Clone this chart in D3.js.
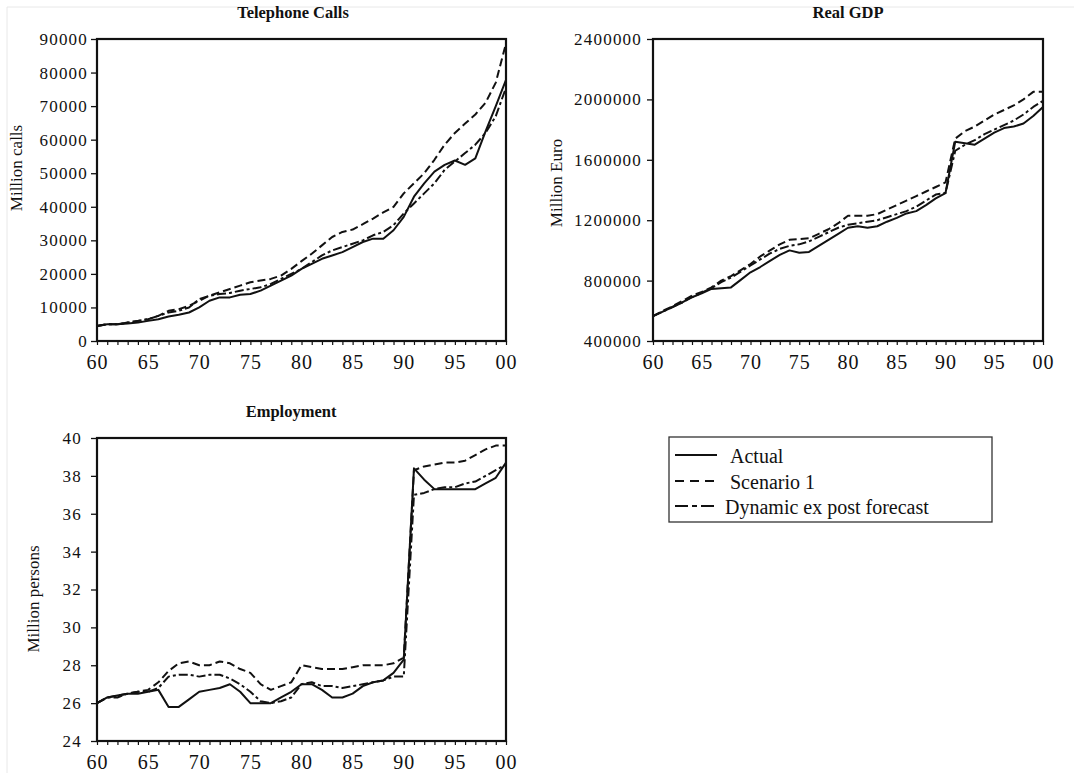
<!DOCTYPE html>
<html>
<head>
<meta charset="utf-8">
<script src="https://cdn.jsdelivr.net/npm/d3@7"></script>
<style>
    body { margin: 0; background: #fff; }
    svg text { font-family: "Liberation Serif", "DejaVu Serif", serif; fill: #111; }
</style>
</head>
<body>
<script>
// years on the x axis
var years = [1960, 1961, 1962, 1963, 1964, 1965, 1966, 1967, 1968, 1969,
    1970, 1971, 1972, 1973, 1974, 1975, 1976, 1977, 1978, 1979,
    1980, 1981, 1982, 1983, 1984, 1985, 1986, 1987, 1988, 1989,
    1990, 1991, 1992, 1993, 1994, 1995, 1996, 1997, 1998, 1999, 2000];
var xTicks = [1960, 1965, 1970, 1975, 1980, 1985, 1990, 1995, 2000];
var xTickLabels = ['60', '65', '70', '75', '80', '85', '90', '95', '00'];

var seriesNames = ['Actual', 'Scenario 1', 'Dynamic ex post forecast'];

// Telephone calls (million calls)
var callsActual = [4500, 5000, 5000, 5200, 5500, 6000, 6500, 7300, 7800, 8500,
    10000, 12000, 13000, 13000, 13800, 14000, 15000, 16500, 18000, 19500,
    21500, 23000, 24500, 25500, 26500, 28000, 29500, 30500, 30500, 33000,
    37000, 43000, 47000, 50500, 52500, 53800, 52500, 54400, 62500, 70000, 77800];
var callsScenario = [4500, 5000, 5000, 5500, 6000, 6500, 7500, 9000, 9500, 10500,
    12000, 13500, 14500, 15500, 16500, 17500, 18000, 18500, 19500, 21500,
    23800, 26000, 28500, 31000, 32500, 33200, 34800, 36500, 38300, 40000,
    44000, 47000, 50000, 54000, 58500, 62000, 64800, 67500, 71000, 77000, 88700];
var callsDynamic = [4500, 5000, 5000, 5500, 6000, 6500, 7500, 8500, 9000, 10000,
    12500, 13500, 14000, 14300, 15000, 15500, 16000, 17000, 18500, 20000,
    21500, 23500, 25500, 27000, 28000, 29000, 30000, 31500, 32500, 34500,
    38000, 41000, 44000, 47000, 51000, 53500, 56000, 58500, 62000, 67000, 75500];
var callsTicks = [0, 10000, 20000, 30000, 40000, 50000, 60000, 70000, 80000, 90000];

// Real GDP (million euro)
var gdpActual = [565000, 595000, 625000, 655000, 690000, 715000, 745000, 750000, 755000, 805000,
    855000, 890000, 930000, 970000, 1000000, 985000, 990000, 1030000, 1070000, 1110000,
    1150000, 1160000, 1150000, 1160000, 1190000, 1215000, 1245000, 1260000, 1300000, 1345000,
    1380000, 1720000, 1710000, 1700000, 1740000, 1780000, 1810000, 1820000, 1840000, 1890000, 1950000];
var gdpScenario = [565000, 600000, 630000, 665000, 700000, 725000, 755000, 800000, 830000, 870000,
    910000, 960000, 1000000, 1040000, 1070000, 1075000, 1080000, 1110000, 1140000, 1180000,
    1230000, 1230000, 1230000, 1240000, 1270000, 1300000, 1330000, 1360000, 1390000, 1420000,
    1450000, 1740000, 1790000, 1820000, 1860000, 1900000, 1930000, 1960000, 2000000, 2050000, 2050000];
var gdpDynamic = [565000, 595000, 625000, 655000, 690000, 720000, 750000, 790000, 820000, 860000,
    900000, 940000, 980000, 1010000, 1030000, 1040000, 1060000, 1090000, 1120000, 1150000,
    1170000, 1180000, 1190000, 1200000, 1220000, 1240000, 1260000, 1290000, 1330000, 1370000,
    1380000, 1660000, 1700000, 1730000, 1770000, 1800000, 1830000, 1860000, 1900000, 1950000, 1990000];
var gdpTicks = [400000, 800000, 1200000, 1600000, 2000000, 2400000];

// Employment (million persons)
var empActual = [26.0, 26.3, 26.4, 26.5, 26.5, 26.6, 26.7, 25.8, 25.8, 26.2,
    26.6, 26.7, 26.8, 27.0, 26.6, 26.0, 26.0, 26.0, 26.3, 26.6,
    27.0, 27.0, 26.7, 26.3, 26.3, 26.5, 26.9, 27.1, 27.2, 27.6,
    28.3, 38.4, 37.8, 37.3, 37.3, 37.3, 37.3, 37.3, 37.6, 37.9, 38.7];
var empScenario = [26.0, 26.3, 26.4, 26.5, 26.6, 26.7, 27.1, 27.7, 28.1, 28.2,
    28.0, 28.0, 28.2, 28.1, 27.8, 27.6, 27.0, 26.7, 26.9, 27.1,
    28.0, 27.9, 27.8, 27.8, 27.8, 27.9, 28.0, 28.0, 28.0, 28.1,
    28.4, 38.3, 38.5, 38.6, 38.7, 38.7, 38.8, 39.1, 39.4, 39.6, 39.6];
var empDynamic = [26.0, 26.3, 26.3, 26.5, 26.6, 26.6, 26.8, 27.4, 27.5, 27.5,
    27.4, 27.5, 27.5, 27.3, 27.0, 26.6, 26.1, 26.0, 26.1, 26.3,
    27.0, 27.1, 26.9, 26.9, 26.8, 26.9, 27.0, 27.1, 27.2, 27.4,
    27.4, 37.0, 37.1, 37.3, 37.4, 37.4, 37.6, 37.7, 38.0, 38.3, 38.6];
var empTicks = [24, 26, 28, 30, 32, 34, 36, 38, 40];

var width = 1074,
    height = 773;

// dash style per series
var dashes = ['none', '8,4', '9,3,3,3'];

var svg = d3.select('body').append('svg')
    .attr('width', width)
    .attr('height', height);

// faint outer border of the scanned figure
svg.append('line').attr('x1', 7).attr('x2', width).attr('y1', 7).attr('y2', 7)
    .attr('stroke', '#e8e8e8').attr('stroke-width', 1);
svg.append('line').attr('x1', 7).attr('x2', 7).attr('y1', 7).attr('y2', height)
    .attr('stroke', '#e8e8e8').attr('stroke-width', 1);

var panels = [
    { title: 'Telephone Calls', ylabel: 'Million calls', series: [callsActual, callsScenario, callsDynamic],
      domain: [0, 90000], ticks: callsTicks, left: 97, top: 39, w: 409, h: 302,
      pad: 3, titleX: 293, titleY: 18, labX: 22, labY: 168 },
    { title: 'Real GDP', ylabel: 'Million Euro', series: [gdpActual, gdpScenario, gdpDynamic],
      domain: [400000, 2400000], ticks: gdpTicks, left: 653, top: 39, w: 390, h: 302,
      pad: 5, titleX: 848, titleY: 18, labX: 562, labY: 183 },
    { title: 'Employment', ylabel: 'Million persons', series: [empActual, empScenario, empDynamic],
      domain: [24, 40], ticks: empTicks, left: 97, top: 438, w: 409, h: 303,
      pad: 9, titleX: 291, titleY: 417, labX: 39, labY: 599 }
];

function drawPanel(p) {
    var x = d3.scaleLinear().domain([1960, 2000]).range([p.left, p.left + p.w]);
    var y = d3.scaleLinear().domain(p.domain).range([p.top + p.h, p.top]);
    var g = svg.append('g');

    // y axis
    var ya = g.append('g')
        .attr('transform', 'translate(' + p.left + ',0)')
        .call(d3.axisLeft(y).tickValues(p.ticks).tickSize(6).tickPadding(p.pad).tickFormat(d3.format('d')));
    ya.select('.domain').remove();
    ya.selectAll('line').attr('stroke', '#111').attr('stroke-width', 1.3);
    ya.selectAll('text')
        .style('font-family', '"Liberation Serif", serif')
        .style('font-size', '17px')
        .style('letter-spacing', '1.2px')
        .attr('fill', '#222');

    // x axis, a small tick for every year
    var xa = g.append('g')
        .attr('transform', 'translate(0,' + (p.top + p.h) + ')')
        .call(d3.axisBottom(x).tickValues(years).tickSize(4).tickFormat(function (d) {
            var i = xTicks.indexOf(d);
            return i >= 0 ? xTickLabels[i] : '';
        }));
    xa.select('.domain').remove();
    xa.selectAll('line').attr('stroke', '#111').attr('stroke-width', 1.2);
    xa.selectAll('text')
        .attr('y', 28)
        .attr('dy', null)
        .style('font-family', '"Liberation Serif", serif')
        .style('font-size', '20px')
        .style('letter-spacing', '1px')
        .attr('fill', '#222');

    // lines
    var line = d3.line()
        .x(function (d, i) { return x(years[i]); })
        .y(function (d) { return y(d); });

    g.selectAll('.series')
        .data(p.series)
        .enter().append('path')
        .attr('class', 'series')
        .attr('d', line)
        .attr('fill', 'none')
        .attr('stroke', '#111')
        .attr('stroke-width', 2)
        .attr('stroke-linejoin', 'round')
        .attr('stroke-dasharray', function (d, i) { return dashes[i]; });

    // frame
    g.append('rect')
        .attr('x', p.left).attr('y', p.top)
        .attr('width', p.w).attr('height', p.h)
        .attr('fill', 'none')
        .attr('stroke', '#111')
        .attr('stroke-width', 2.2);

    // title
    g.append('text')
        .attr('x', p.titleX).attr('y', p.titleY)
        .attr('text-anchor', 'middle')
        .style('font-size', '16.5px')
        .style('font-weight', 'bold')
        .text(p.title);

    // y label
    g.append('text')
        .attr('transform', 'translate(' + p.labX + ',' + p.labY + ') rotate(-90)')
        .attr('text-anchor', 'middle')
        .style('font-size', '17px')
        .attr('fill', '#222')
        .text(p.ylabel);
}

panels.forEach(drawPanel);

// legend
var legend = svg.append('g');
legend.append('rect')
    .attr('x', 669).attr('y', 437)
    .attr('width', 323).attr('height', 85)
    .attr('fill', '#fff')
    .attr('stroke', '#333')
    .attr('stroke-width', 1.3);

var legendRows = [455, 481, 506];
var legendTextX = [730, 730, 725];

seriesNames.forEach(function (name, i) {
    legend.append('line')
        .attr('x1', 675).attr('x2', 717)
        .attr('y1', legendRows[i]).attr('y2', legendRows[i])
        .attr('stroke', '#111')
        .attr('stroke-width', 2)
        .attr('stroke-dasharray', i === 1 ? '9,6' : (i === 2 ? '13,4,5,4' : 'none'));
    legend.append('text')
        .attr('x', legendTextX[i])
        .attr('y', legendRows[i] + 8)
        .style('font-size', '20px')
        .attr('fill', '#222')
        .text(name);
});
</script>
</body>
</html>
